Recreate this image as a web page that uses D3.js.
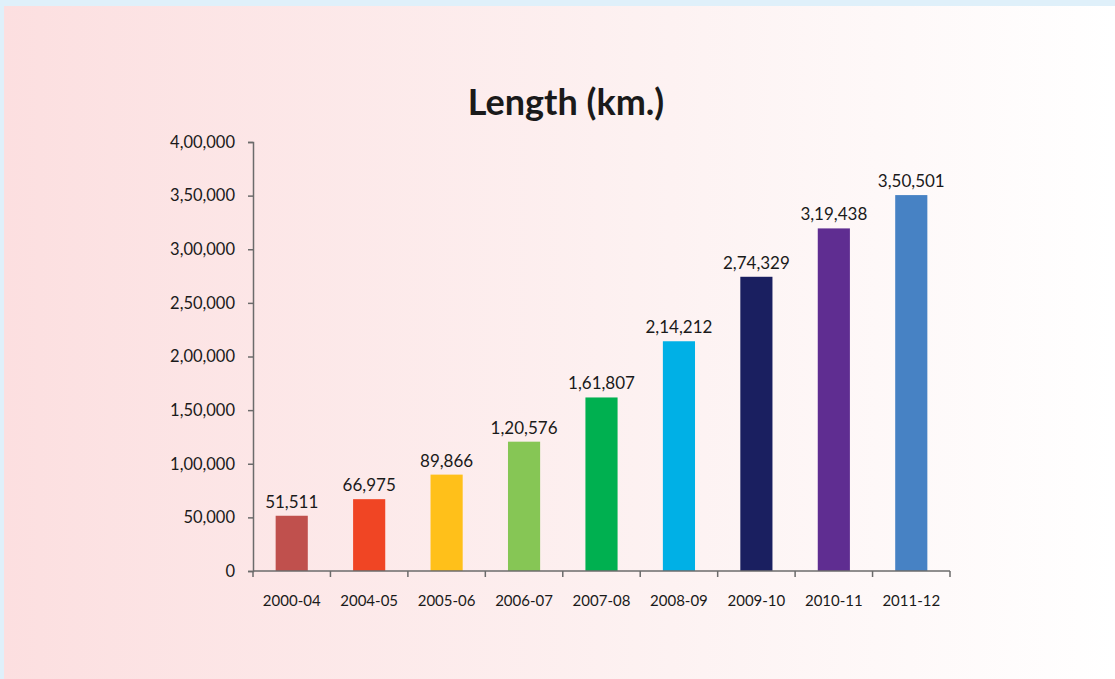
<!DOCTYPE html>
<html><head><meta charset="utf-8">
<script src="https://cdn.jsdelivr.net/npm/d3@7"></script>
<style>
html,body{margin:0;padding:0;}
body{width:1115px;height:679px;overflow:hidden;background:#dff0fa;}
</style></head><body>
<svg id="c" width="1115" height="679"></svg>
<script>
const categories = ["2000-04","2004-05","2005-06","2006-07","2007-08","2008-09","2009-10","2010-11","2011-12"];
const values = [51511, 66975, 89866, 120576, 161807, 214212, 274329, 319438, 350501];
const labels = ["51,511","66,975","89,866","1,20,576","1,61,807","2,14,212","2,74,329","3,19,438","3,50,501"];
const colors = ["#c0504d","#f04524","#ffc01a","#86c655","#00b050","#00b0e6","#1a1f60","#5f2d91","#4782c4"];
const yTicks = [0,50000,100000,150000,200000,250000,300000,350000,400000];
const yTickLabels = ["0","50,000","1,00,000","1,50,000","2,00,000","2,50,000","3,00,000","3,50,000","4,00,000"];
const title = "Length (km.)";

const svg = d3.select("#c");
const defs = svg.append("defs");
const g = defs.append("linearGradient").attr("id","bg").attr("x1","0").attr("x2","1").attr("y1","0").attr("y2","0");
g.append("stop").attr("offset","0").attr("stop-color","#fcdfe0");
g.append("stop").attr("offset","0.6").attr("stop-color","#fdf2f2");
g.append("stop").attr("offset","1").attr("stop-color","#ffffff");
svg.append("rect").attr("x",4).attr("y",6).attr("width",1111).attr("height",673).attr("fill","url(#bg)");

const font = "Lato, 'Open Sans', sans-serif";
const x0 = 253, x1 = 950, yTop = 142, yBot = 571;
const x = d3.scaleBand().domain(categories).range([x0,x1]).paddingInner(0.585).paddingOuter(0.2925);
const y = d3.scaleLinear().domain([0,400000]).range([yBot,yTop]);

svg.append("text").attr("x",566).attr("y",115).attr("text-anchor","middle")
  .attr("font-family",font).attr("font-weight","bold").attr("font-size",36).attr("fill","#1a1a1a").text(title);

svg.selectAll("rect.bar").data(values).join("rect").attr("class","bar")
  .attr("x",(d,i)=>x(categories[i])).attr("width",x.bandwidth())
  .attr("y",d=>y(d)).attr("height",d=>yBot-y(d)).attr("fill",(d,i)=>colors[i]);

svg.selectAll("text.vl").data(values).join("text").attr("class","vl")
  .attr("x",(d,i)=>x(categories[i])+x.bandwidth()/2).attr("y",d=>y(d)-8)
  .attr("text-anchor","middle").attr("font-family",font).attr("font-size",17).attr("fill","#1a1a1a")
  .text((d,i)=>labels[i]);

const yAxis = d3.axisLeft(y).tickValues(yTicks).tickFormat((d,i)=>yTickLabels[i]).tickSize(5).tickSizeOuter(5).tickPadding(13);
const ya = svg.append("g").attr("transform",`translate(${x0},0)`).call(yAxis);
ya.selectAll("path,line").attr("stroke","#6b6b6b").attr("stroke-width",1.5);
ya.selectAll("text").attr("font-family",font).attr("font-size",16.5).attr("fill","#1a1a1a");

const xb = d3.scaleLinear().domain([0,categories.length]).range([x0,x1]);
const xa = svg.append("g").attr("transform",`translate(0,${yBot})`);
xa.append("line").attr("x1",x0).attr("x2",x1).attr("y1",0).attr("y2",0).attr("stroke","#6b6b6b").attr("stroke-width",1.5);
xa.selectAll("line.t").data(d3.range(categories.length+1)).join("line").attr("class","t")
  .attr("x1",d=>xb(d)).attr("x2",d=>xb(d)).attr("y1",0).attr("y2",6).attr("stroke","#6b6b6b").attr("stroke-width",1.5);
xa.selectAll("text").data(categories).join("text")
  .attr("x",d=>x(d)+x.bandwidth()/2).attr("y",35).attr("text-anchor","middle")
  .attr("font-family",font).attr("font-size",15).attr("fill","#1a1a1a").text(d=>d);
</script></body></html>
